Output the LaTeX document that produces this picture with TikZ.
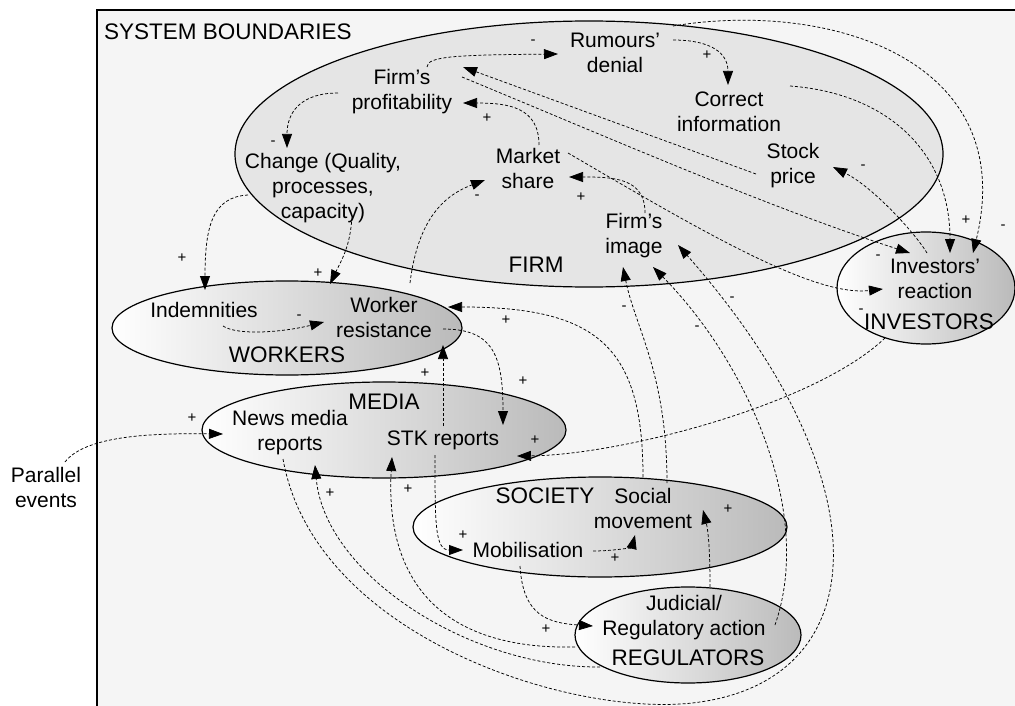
\documentclass[tikz,border=0pt]{standalone}
\usepackage{fontspec}
\setmainfont{Liberation Sans}
\usetikzlibrary{arrows.meta,shapes.geometric}

\begin{document}
\begin{tikzpicture}[x=1pt,y=-1pt,
  grp/.style={ellipse, draw, line width=1.2pt, inner sep=0pt},
  shgrp/.style={grp, left color=white, right color=black!27},
  lbl/.style={align=center, inner sep=0pt, font=\fontsize{21}{25}\selectfont},
  title/.style={inner sep=0pt, font=\fontsize{22.5}{27}\selectfont},
  sign/.style={inner sep=0pt, font=\fontsize{15}{17}\selectfont},
  conn/.style={line width=0.75pt, dash pattern=on 3pt off 2pt,
               -{Triangle[length=14pt,width=10pt]}},
]
\useasboundingbox (0,0) rectangle (1015,706);
\clip (0,0) rectangle (1015,706);

% system boundary
\draw[line width=1.1pt, fill=black!4] (97,10) rectangle (1030,720);
\node[title, anchor=west] (sysb) at (104,32) {SYSTEM BOUNDARIES};

% actor groups
\node[grp, fill=black!10, minimum width=708pt, minimum height=266pt] (firm) at (589,154) {};
\node[shgrp, minimum width=350pt, minimum height=94pt] (workers) at (287,328) {};
\node[shgrp, minimum width=364pt, minimum height=96pt] (media) at (384,430) {};
\node[shgrp, minimum width=374pt, minimum height=100pt] (society) at (600,527) {};
\node[shgrp, minimum width=226pt, minimum height=96pt] (regulators) at (688,635) {};
\node[shgrp, minimum width=178pt, minimum height=112pt] (investors) at (926,288) {};

% group titles
\node[title] (firmlbl) at (536,265) {FIRM};
\node[title] (wrklbl) at (287,355) {WORKERS};
\node[title] (medlbl) at (384,402) {MEDIA};
\node[title] (soclbl) at (545,496) {SOCIETY};
\node[title] (reglbl) at (688,658) {REGULATORS};
\node[title] (invlbl) at (929,322) {INVESTORS};

% variables
\node[lbl] (prof) at (402,92) {Firm’s\\profitability};
\node[lbl] (rum) at (615,53) {Rumours’\\denial};
\node[lbl] (corr) at (729,112) {Correct\\information};
\node[lbl] (stock) at (793,166) {Stock\\price};
\node[lbl] (mkt) at (528,168) {Market\\share};
\node[lbl] (chg) at (323,188) {Change (Quality,\\processes,\\capacity)};
\node[lbl] (img) at (634,236) {Firm’s\\image};
\node[lbl] (inv) at (935,279) {Investors’\\reaction};
\node[lbl] (ind) at (204,310) {Indemnities};
\node[lbl] (wres) at (384,317) {Worker\\resistance};
\node[lbl] (news) at (290,433) {News media\\reports};
\node[lbl] (stk) at (443,440) {STK reports};
\node[lbl] (soc) at (643,508) {Social\\movement};
\node[lbl] (mob) at (528,550) {Mobilisation};
\node[lbl] (jud) at (684,618) {Judicial/\\Regulatory action};
\node[lbl] (par) at (46,487) {Parallel\\events};

% causal links
\draw[conn] ([shift={(25,-25)}]prof.center) .. controls +(0,-11) and +(-100,1) .. ([shift={(-57,1)}]rum.center);
\draw[conn] ([shift={(58,-13)}]rum.center) .. controls +(38,0) and +(0,-32) .. ([shift={(-1,-27)}]corr.center);
\draw[conn] ([shift={(-64,1)}]prof.center) .. controls +(-38,0) and +(0,-35) .. ([shift={(-36,-40)}]chg.center);
\draw[conn] ([shift={(11,-23)}]mkt.center) .. controls +(0,-38) and +(45,0) .. ([shift={(61,11)}]prof.center);
\draw[conn] ([shift={(11,-23)}]img.center) .. controls +(0,-35) and +(45,0) .. ([shift={(41,9)}]mkt.center);
\draw[conn] ([shift={(-37,8)}]stock.center) -- ([shift={(61,-25)}]prof.center);
\draw[conn] ([shift={(60,-15)}]prof.center) .. controls +(150,62) and +(-140,-45) .. ([shift={(-25,-26)}]inv.center);
\draw[conn] ([shift={(40,-15)}]mkt.center) .. controls +(130,76) and +(-70,8) .. ([shift={(-52,10)}]inv.center);
\draw[conn] ([shift={(61,-26)}]corr.center) .. controls +(95,7) and +(0,-103) .. ([shift={(15,-26)}]inv.center);
\draw[conn] ([shift={(58,-27)}]rum.center) .. controls +(157,-26) and +(47,-193) .. ([shift={(38,-26)}]inv.center);
\draw[conn] ([shift={(-8,-26)}]inv.center) .. controls +(-12,-20) and +(40,20) .. ([shift={(40,1)}]stock.center);
\draw[conn] ([shift={(-75,7)}]chg.center) .. controls +(-35,2) and +(0,-65) .. ([shift={(1,-20)}]ind.center);
\draw[conn] ([shift={(29,29)}]chg.center) .. controls +(-2,30) and +(12,-25) .. ([shift={(-54,-33)}]wres.center);
\draw[conn] ([shift={(19,16)}]ind.center) .. controls +(15,10) and +(-40,10) .. ([shift={(-60,5)}]wres.center);
\draw[conn] ([shift={(26,-34)}]wres.center) .. controls +(8,-65) and +(-40,15) .. ([shift={(-43,12)}]mkt.center);
\draw[conn] ([shift={(59,12)}]wres.center) .. controls +(50,0) and +(0,-70) .. ([shift={(60,-15)}]stk.center);
\draw[conn] ([shift={(0,-14)}]stk.center) -- ([shift={(59,28)}]wres.center);
\draw[conn] ([shift={(0,-31)}]soc.center) .. controls +(0,-130) and +(150,0) .. ([shift={(64,-10)}]wres.center);
\draw[conn] ([shift={(24,-25)}]soc.center) .. controls +(0,-110) and +(12,60) .. ([shift={(-11,31)}]img.center);
\draw[conn] ([shift={(91,7)}]jud.center) .. controls +(40,-115) and +(92,93) .. ([shift={(19,31)}]img.center);
\draw[conn] ([shift={(-7,26)}]news.center) .. controls (315,640) and (580,720) .. (700,702)
            .. controls (875,677) and (885,480) .. ([shift={(44,9)}]img.center);
\draw[conn] ([shift={(-84,49)}]jud.center) .. controls +(-130,1) and +(10,110) .. ([shift={(25,32)}]news.center);
\draw[conn] ([shift={(-109,29)}]jud.center) .. controls +(-135,3) and +(-7,123) .. ([shift={(-51,17)}]stk.center);
\draw[conn] ([shift={(-50,59)}]inv.center) .. controls +(-70,67) and +(103,-1) .. ([shift={(74,16)}]stk.center);
\draw[conn] ([shift={(19,-25)}]par.center) .. controls +(20,-26) and +(-73,-1) .. ([shift={(-67,1)}]news.center);
\draw[conn] ([shift={(-8,15)}]stk.center) .. controls +(0,70) and +(-28,0) .. ([shift={(-65,0)}]mob.center);
\draw[conn] ([shift={(65,1)}]mob.center) .. controls +(22,0) and +(-3,12) .. ([shift={(-8,27)}]soc.center);
\draw[conn] ([shift={(-8,16)}]mob.center) .. controls +(3,50) and +(-45,-3) .. ([shift={(-91,8)}]jud.center);
\draw[conn] ([shift={(26,-31)}]jud.center) .. controls +(0,-40) and +(5,20) .. ([shift={(60,2)}]soc.center);

% link polarities
\node[sign] (s1) at (533,42) {-};
\node[sign] (s2) at (707,55) {+};
\node[sign] (s3) at (273,143) {-};
\node[sign] (s4) at (487,118) {+};
\node[sign] (s5) at (581,197) {+};
\node[sign] (s6) at (863,167) {-};
\node[sign] (s7) at (966,220) {+};
\node[sign] (s8) at (1003,227) {-};
\node[sign] (s9) at (878,257) {-};
\node[sign] (s10) at (861,311) {-};
\node[sign] (s11) at (182,258) {+};
\node[sign] (s12) at (318,273) {+};
\node[sign] (s13) at (299,317) {-};
\node[sign] (s14) at (477,197) {-};
\node[sign] (s15) at (523,381) {+};
\node[sign] (s16) at (425,373) {+};
\node[sign] (s17) at (506,320) {+};
\node[sign] (s18) at (624,308) {-};
\node[sign] (s19) at (697,328) {-};
\node[sign] (s20) at (732,299) {-};
\node[sign] (s21) at (535,440) {+};
\node[sign] (s22) at (192,418) {+};
\node[sign] (s23) at (463,535) {+};
\node[sign] (s24) at (615,558) {+};
\node[sign] (s25) at (546,629) {+};
\node[sign] (s26) at (728,509) {+};
\node[sign] (s27) at (330,493) {+};
\node[sign] (s28) at (408,489) {+};
\end{tikzpicture}
\end{document}
